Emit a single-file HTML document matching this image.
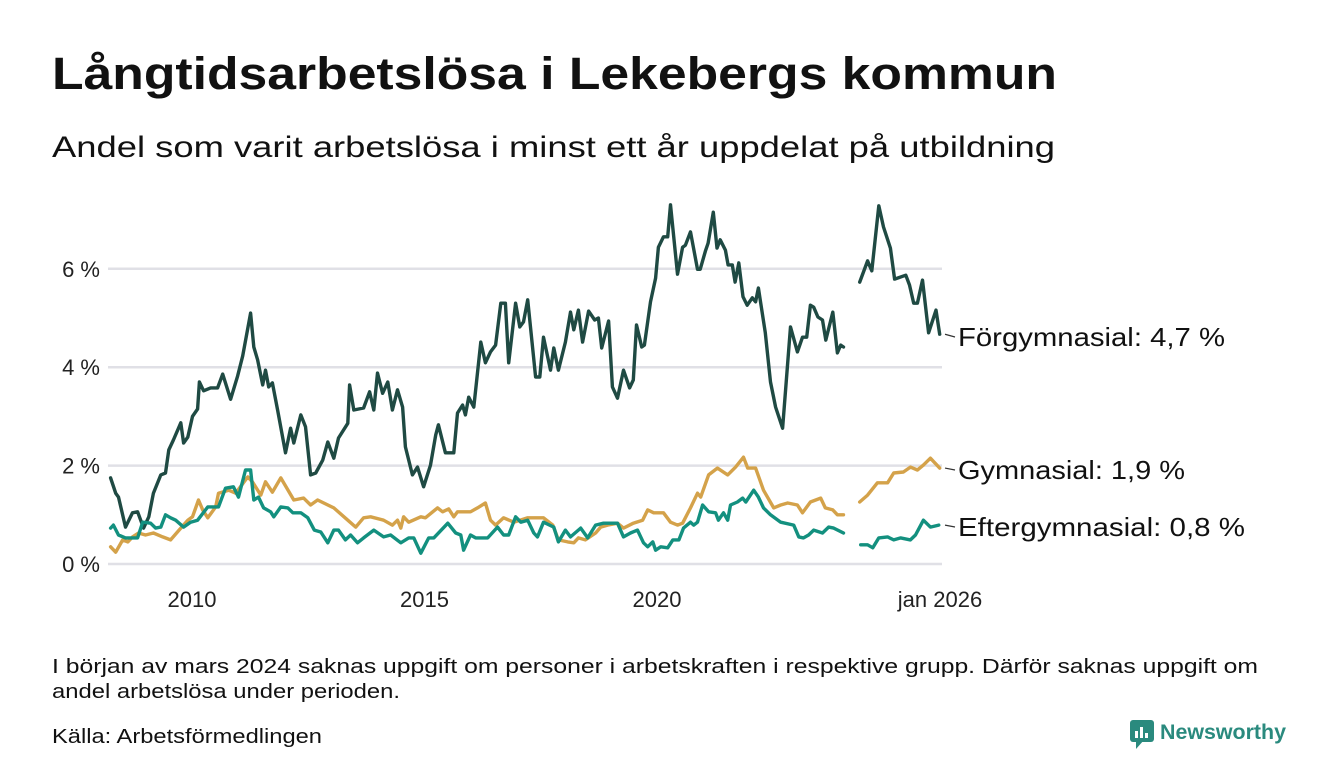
<!DOCTYPE html>
<html><head><meta charset="utf-8"><style>
html,body{margin:0;padding:0;background:#fff;}
svg{display:block;font-family:"Liberation Sans",sans-serif;}
</style></head><body>
<svg id="chart" width="1340" height="780" viewBox="0 0 1340 780" xmlns="http://www.w3.org/2000/svg">
<text x="52" y="89" font-size="45" font-weight="bold" fill="#111" textLength="1005" lengthAdjust="spacingAndGlyphs">Långtidsarbetslösa i Lekebergs kommun</text>
<text x="52" y="157" font-size="30" fill="#111" textLength="1003" lengthAdjust="spacingAndGlyphs">Andel som varit arbetslösa i minst ett år uppdelat på utbildning</text>
<g id="grid"></g>
<g id="yticks"></g>
<g id="xticks"></g>
<g id="lines"></g>
<g id="labels"></g>
<text x="52" y="673" font-size="20" fill="#111" textLength="1206" lengthAdjust="spacingAndGlyphs">I början av mars 2024 saknas uppgift om personer i arbetskraften i respektive grupp. Därför saknas uppgift om</text>
<text x="52" y="698" font-size="20" fill="#111" textLength="348" lengthAdjust="spacingAndGlyphs">andel arbetslösa under perioden.</text>
<text x="52" y="743" font-size="20" fill="#111" textLength="270" lengthAdjust="spacingAndGlyphs">Källa: Arbetsförmedlingen</text>
<g>
<rect x="1130" y="720" width="24" height="22" rx="3" fill="#2a8a7e"/>
<path d="M1136 749 L1136 740 L1144 740 Z" fill="#2a8a7e"/>
<rect x="1135" y="731" width="3" height="7" fill="#fff"/><rect x="1140" y="727" width="3" height="11" fill="#fff"/><rect x="1145" y="733" width="3" height="5" fill="#fff"/>
<text x="1160" y="739" font-size="21" font-weight="bold" fill="#2a8a7e" textLength="126" lengthAdjust="spacingAndGlyphs">Newsworthy</text>
</g>
</svg>
<script>
const yTicks=[0,2,4,6];
const yTickLabels=["0 %","2 %","4 %","6 %"];
const xTicks=[2010,2015,2020,2026.0];
const xTickLabels=["2010","2015","2020","jan 2026"];
const forgDates=[2008.25,2008.36,2008.42,2008.57,2008.72,2008.83,2008.96,2009.07,2009.17,2009.33,2009.43,2009.50,2009.60,2009.76,2009.82,2009.91,2010.01,2010.12,2010.16,2010.25,2010.40,2010.55,2010.66,2010.83,2010.98,2011.09,2011.26,2011.33,2011.41,2011.52,2011.58,2011.65,2011.73,2011.84,2012.01,2012.12,2012.19,2012.34,2012.44,2012.55,2012.66,2012.81,2012.92,2013.05,2013.15,2013.35,2013.39,2013.48,2013.69,2013.82,2013.91,2013.99,2014.10,2014.21,2014.31,2014.42,2014.53,2014.59,2014.74,2014.85,2014.98,2015.13,2015.24,2015.30,2015.45,2015.63,2015.71,2015.82,2015.88,2015.95,2016.06,2016.21,2016.31,2016.42,2016.53,2016.64,2016.74,2016.81,2016.96,2017.05,2017.13,2017.22,2017.39,2017.48,2017.56,2017.71,2017.78,2017.88,2018.03,2018.14,2018.21,2018.31,2018.40,2018.53,2018.66,2018.74,2018.81,2018.96,2019.04,2019.15,2019.28,2019.41,2019.49,2019.56,2019.67,2019.73,2019.86,2019.97,2020.03,2020.14,2020.23,2020.29,2020.44,2020.55,2020.61,2020.72,2020.87,2020.93,2021.04,2021.10,2021.21,2021.29,2021.36,2021.47,2021.53,2021.62,2021.68,2021.76,2021.85,2021.94,2022.05,2022.12,2022.18,2022.33,2022.44,2022.55,2022.70,2022.87,2023.02,2023.13,2023.22,2023.30,2023.37,2023.46,2023.56,2023.63,2023.78,2023.88,2023.95,2024.01,2024.2,2024.36,2024.53,2024.62,2024.77,2024.87,2025.02,2025.11,2025.35,2025.43,2025.52,2025.60,2025.71,2025.84,2026.0,2026.08];
const forgValues=[1.75,1.44,1.36,0.75,1.04,1.06,0.73,0.96,1.44,1.81,1.85,2.32,2.52,2.87,2.46,2.58,3.00,3.15,3.70,3.52,3.58,3.58,3.86,3.35,3.82,4.23,5.10,4.41,4.15,3.64,3.94,3.60,3.68,3.13,2.26,2.76,2.46,3.03,2.79,1.81,1.85,2.11,2.48,2.15,2.56,2.86,3.64,3.13,3.17,3.50,3.13,3.88,3.47,3.70,3.13,3.54,3.19,2.38,1.81,1.97,1.57,2.01,2.62,2.83,2.26,2.26,3.07,3.23,3.03,3.39,3.19,4.51,4.09,4.31,4.45,5.30,5.30,4.09,5.30,4.82,4.92,5.37,3.80,3.80,4.61,3.94,4.39,3.94,4.51,5.12,4.76,5.16,4.51,5.14,4.96,5.00,4.39,4.94,3.60,3.37,3.94,3.58,3.74,4.86,4.41,4.45,5.33,5.81,6.44,6.65,6.65,7.30,5.89,6.44,6.48,6.75,5.99,5.99,6.36,6.52,7.15,6.42,6.59,6.38,6.08,6.08,5.73,6.12,5.43,5.26,5.41,5.33,5.61,4.70,3.70,3.19,2.76,4.82,4.31,4.61,4.61,5.26,5.22,5.02,4.96,4.55,5.12,4.29,4.45,4.41,null,5.73,6.16,5.96,7.28,6.85,6.42,5.79,5.87,5.67,5.30,5.30,5.77,4.70,5.16,4.67];
const gymDates=[2008.25,2008.36,2008.51,2008.62,2008.72,2008.85,2009.00,2009.17,2009.37,2009.54,2009.76,2009.91,2010.01,2010.14,2010.23,2010.34,2010.51,2010.57,2010.79,2010.94,2011.20,2011.30,2011.48,2011.58,2011.73,2011.91,2012.19,2012.40,2012.55,2012.70,2013.05,2013.35,2013.52,2013.69,2013.84,2014.12,2014.31,2014.42,2014.49,2014.55,2014.66,2014.92,2015.02,2015.28,2015.39,2015.52,2015.63,2015.71,2015.99,2016.14,2016.31,2016.42,2016.53,2016.70,2016.92,2017.22,2017.56,2017.76,2017.88,2018.08,2018.21,2018.31,2018.46,2018.68,2018.79,2018.94,2019.15,2019.28,2019.49,2019.69,2019.80,2019.93,2020.14,2020.29,2020.44,2020.55,2020.72,2020.87,2020.94,2021.11,2021.30,2021.52,2021.69,2021.86,2021.95,2022.12,2022.29,2022.51,2022.66,2022.81,2023.02,2023.13,2023.30,2023.52,2023.62,2023.78,2023.88,2024.01,2024.2,2024.36,2024.53,2024.74,2024.96,2025.09,2025.30,2025.45,2025.60,2025.73,2025.88,2026.08];
const gymValues=[0.35,0.24,0.49,0.45,0.55,0.63,0.59,0.63,0.55,0.49,0.73,0.89,0.96,1.30,1.10,0.94,1.16,1.44,1.50,1.44,1.77,1.67,1.40,1.67,1.46,1.75,1.30,1.34,1.20,1.30,1.14,0.89,0.75,0.94,0.96,0.89,0.79,0.89,0.73,0.96,0.85,0.96,0.94,1.14,1.06,1.12,0.96,1.06,1.06,1.14,1.24,0.89,0.79,0.94,0.85,0.94,0.94,0.79,0.49,0.45,0.43,0.53,0.49,0.63,0.75,0.79,0.83,0.73,0.83,0.89,1.10,1.04,1.04,0.85,0.79,0.83,1.14,1.44,1.36,1.81,1.95,1.81,1.97,2.17,1.95,1.95,1.50,1.14,1.20,1.24,1.20,1.04,1.26,1.34,1.14,1.10,1.00,1.00,null,1.26,1.40,1.65,1.65,1.85,1.87,1.97,1.91,2.01,2.15,1.95];
const eftDates=[2008.25,2008.31,2008.42,2008.57,2008.83,2008.94,2009.11,2009.22,2009.33,2009.43,2009.54,2009.65,2009.82,2009.97,2010.12,2010.34,2010.57,2010.72,2010.89,2011.00,2011.15,2011.26,2011.33,2011.43,2011.54,2011.69,2011.76,2011.91,2012.06,2012.17,2012.34,2012.49,2012.63,2012.77,2012.92,2013.05,2013.15,2013.30,2013.41,2013.56,2013.69,2013.91,2014.12,2014.27,2014.49,2014.66,2014.77,2014.92,2015.09,2015.20,2015.50,2015.67,2015.78,2015.84,2015.99,2016.10,2016.36,2016.57,2016.70,2016.81,2016.96,2017.07,2017.22,2017.35,2017.43,2017.56,2017.78,2017.88,2018.03,2018.14,2018.36,2018.51,2018.68,2018.85,2019.15,2019.28,2019.43,2019.58,2019.71,2019.80,2019.91,2019.97,2020.08,2020.23,2020.34,2020.47,2020.57,2020.72,2020.79,2020.87,2020.98,2021.11,2021.26,2021.32,2021.43,2021.52,2021.58,2021.73,2021.84,2021.91,2022.08,2022.18,2022.29,2022.44,2022.66,2022.94,2023.05,2023.15,2023.26,2023.37,2023.56,2023.69,2023.80,2024.01,2024.2,2024.38,2024.53,2024.64,2024.77,2024.96,2025.09,2025.24,2025.45,2025.56,2025.73,2025.88,2026.06];
const eftValues=[0.73,0.79,0.59,0.53,0.53,0.85,0.83,0.73,0.75,1.00,0.94,0.89,0.75,0.85,0.89,1.16,1.16,1.54,1.57,1.36,1.91,1.91,1.30,1.36,1.14,1.06,0.96,1.16,1.14,1.04,1.04,0.94,0.69,0.65,0.43,0.69,0.69,0.49,0.59,0.43,0.53,0.69,0.55,0.59,0.43,0.53,0.53,0.22,0.53,0.53,0.83,0.63,0.59,0.28,0.59,0.53,0.53,0.75,0.59,0.59,0.96,0.85,0.89,0.63,0.55,0.85,0.75,0.45,0.69,0.55,0.73,0.53,0.79,0.83,0.83,0.55,0.63,0.69,0.43,0.35,0.45,0.28,0.35,0.33,0.49,0.49,0.73,0.85,0.79,0.85,1.20,1.06,1.04,0.89,1.04,0.89,1.20,1.26,1.34,1.26,1.50,1.36,1.14,1.00,0.85,0.79,0.55,0.53,0.59,0.69,0.63,0.75,0.73,0.63,null,0.39,0.39,0.33,0.53,0.55,0.49,0.53,0.49,0.59,0.89,0.75,0.79];
const seriesNames=["Förgymnasial","Gymnasial","Eftergymnasial"];
const seriesLast=["4,7 %","1,9 %","0,8 %"];

const NS="http://www.w3.org/2000/svg";
const xs=t=>192+(t-2010)*46.5;
const ys=v=>564-v*49.2;
function mk(tag,attrs,parent){const e=document.createElementNS(NS,tag);for(const k in attrs)e.setAttribute(k,attrs[k]);parent.appendChild(e);return e;}
const grid=document.getElementById('grid'),yt=document.getElementById('yticks'),xt=document.getElementById('xticks'),lines=document.getElementById('lines'),labels=document.getElementById('labels');
yTicks.forEach((v,i)=>{
  const l=mk('line',{x1:108,x2:942,y1:ys(v),y2:ys(v),stroke:'#e0e0e6','stroke-width':2.5},grid);
  
  
  const t=mk('text',{x:100,y:ys(v)+8,'text-anchor':'end','font-size':22,fill:'#222'},yt);
  t.textContent=yTickLabels[i];
  
  
});
xTicks.forEach((v,i)=>{
  const t=mk('text',{x:xs(v)+(i==3?4:0),y:607,'text-anchor':'middle','font-size':22,fill:'#222'},xt);
  t.textContent=xTickLabels[i];
  
  
});
const all=[[forgDates,forgValues,'#1f4a43'],[gymDates,gymValues,'#d4a24a'],[eftDates,eftValues,'#13907f']];
all.forEach(([d,v,c],si)=>{
  let path='',pen=false;
  d.forEach((t,i)=>{ if(v[i]===null){pen=false;return;} path+=(pen?'L':'M')+xs(t).toFixed(1)+' '+ys(v[i]).toFixed(1)+' '; pen=true;});
  const p=mk('path',{d:path,fill:'none',stroke:c,'stroke-width':3.4,'stroke-linejoin':'round','stroke-linecap':'round'},lines);
  
  
});
const labelY=[337,470,527];
const labelW=[267,227,287];
all.forEach(([d,v],si)=>{
  const ly=ys(v[v.length-1]);
  const tick=mk('line',{x1:945,x2:955,y1:ly,y2:labelY[si],stroke:'#333','stroke-width':1.2},labels);
  
  
  const t=mk('text',{x:958,y:labelY[si]+9,'font-size':26,fill:'#111',textLength:labelW[si],lengthAdjust:'spacingAndGlyphs'},labels);
  t.textContent=seriesNames[si]+': '+seriesLast[si];
  
  
});
</script>
</body></html>
